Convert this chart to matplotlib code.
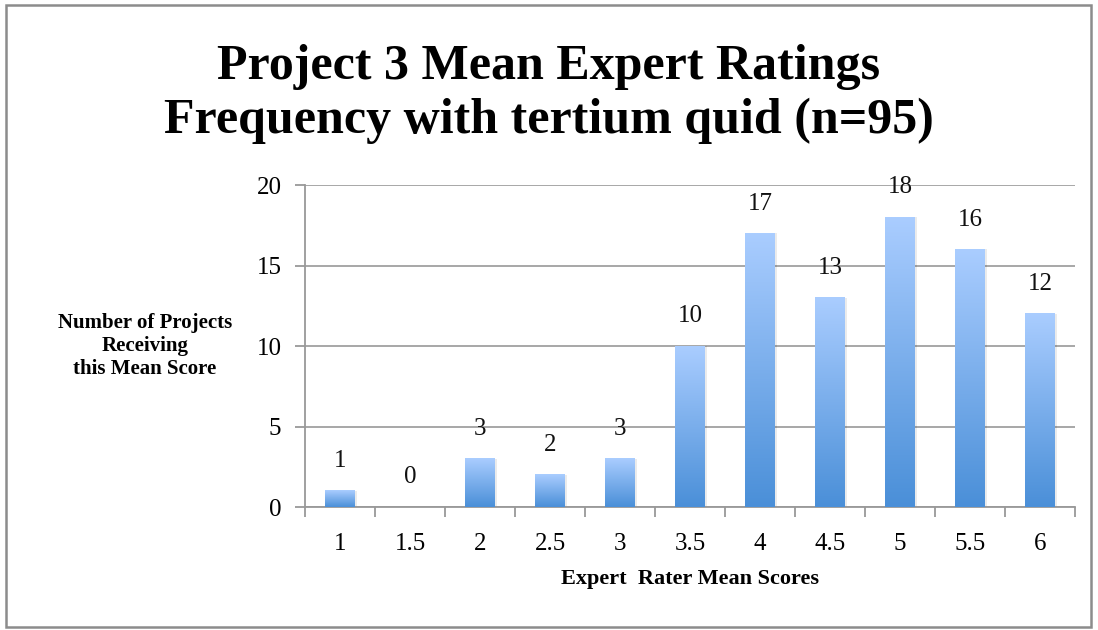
import matplotlib
matplotlib.use("Agg")
import matplotlib.pyplot as plt
import numpy as np
from matplotlib.colors import LinearSegmentedColormap
from matplotlib.patches import Rectangle

categories = ["1", "1.5", "2", "2.5", "3", "3.5", "4", "4.5", "5", "5.5", "6"]
counts = [1, 0, 3, 2, 3, 10, 17, 13, 18, 16, 12]
yticks = [0, 5, 10, 15, 20]

title = "Project 3 Mean Expert Ratings\nFrequency with tertium quid (n=95)"
xlabel = "Expert  Rater Mean Scores"
ylabel = "Number of Projects\nReceiving\nthis Mean Score"

serif = ["Liberation Serif", "DejaVu Serif"]

fig = plt.figure(figsize=(10.98, 6.30), dpi=100)
fig.patch.set_facecolor("white")

# outer border
fig.patches.append(Rectangle((6 / 1098, 3 / 630), 1085 / 1098, 622 / 630,
                             transform=fig.transFigure, fill=False,
                             edgecolor="#8c8c8c", linewidth=1.8))

ax = fig.add_axes([305 / 1098, 1 - 507 / 630, 770 / 1098, 322 / 630])
x = np.arange(len(categories))

cmap = LinearSegmentedColormap.from_list("g", ["#4a8fd8", "#aacdff"])
grad = np.linspace(0, 1, 256).reshape(-1, 1)
width = 0.42
for xi, v in zip(x, counts):
    if v > 0:
        ax.add_patch(Rectangle((xi - width / 2 + 0.03, 0), width, v,
                               facecolor="#000000", alpha=0.08, edgecolor="none", zorder=2))
        ax.imshow(grad, extent=(xi - width / 2, xi + width / 2, 0, v),
                  origin="lower", cmap=cmap, aspect="auto", zorder=3)
    ax.text(xi, v + 1.85, str(v), ha="center", va="center", fontsize=18,
            family=serif, color="#111111", zorder=4)
ax.set_xlim(-0.5, len(categories) - 0.5)
ax.set_ylim(0, 20)

ax.set_yticks(yticks)
ax.set_yticklabels([str(t) for t in yticks], family=serif, fontsize=18)
ax.set_xticks(x)
ax.set_xticklabels(categories, family=serif, fontsize=18)
ax.set_xticks(np.arange(-0.5, len(categories)), minor=True)
ax.tick_params(axis="x", which="major", length=0, pad=19)
ax.tick_params(axis="x", which="minor", length=7, width=1.3, color="#999999", direction="out")
ax.tick_params(axis="y", length=7, width=1.3, color="#999999", direction="out", pad=10)

ax.grid(axis="y", color="#a0a0a0", linewidth=1.3, zorder=0)
ax.set_axisbelow(True)
for s in ["top", "right"]:
    ax.spines[s].set_visible(False)
for s in ["left", "bottom"]:
    ax.spines[s].set_color("#999999")
    ax.spines[s].set_linewidth(1.3)

fig.text(0.5, 1 - 94 / 630, title, ha="center", va="center", fontsize=36,
         fontweight="bold", family=serif, linespacing=1.22)
fig.text(690 / 1098, 1 - 579 / 630, xlabel, ha="center", va="center",
         fontsize=16, fontweight="bold", family=serif)
fig.text(145 / 1098, 1 - 346 / 630, ylabel, ha="center", va="center",
         fontsize=15, fontweight="bold", family=serif, linespacing=1.18)

fig.savefig("out.png", dpi=100)
